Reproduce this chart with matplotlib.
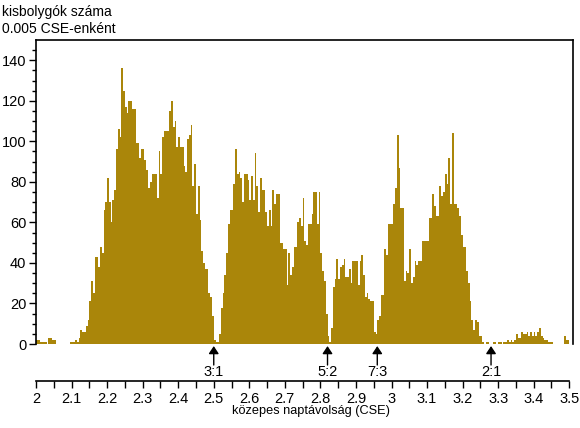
import numpy as np
import matplotlib
matplotlib.use('Agg')
import matplotlib.pyplot as plt

plt.rcParams['font.family'] = ['Liberation Sans', 'DejaVu Sans']

# kisbolygók száma 0.005 CSE-s rekeszekben, 2.0 - 3.5 CSE
bin_start = 2.0
bin_width = 0.005
counts = [
    2, 2, 1, 1, 1, 1, 0, 3, 3, 2,            # 2.000
    2, 0, 0, 0, 0, 0, 0, 0, 0, 1,            # 2.050
    1, 1, 2, 1, 3, 7, 6, 6, 9, 12,           # 2.100
    21, 31, 25, 43, 43, 38, 48, 45, 66, 70,  # 2.150
    82, 70, 60, 71, 76, 96, 106, 102, 136, 125,  # 2.200
    117, 114, 120, 120, 116, 116, 99, 99, 92, 96,  # 2.250
    96, 91, 86, 77, 80, 84, 84, 84, 72, 95,  # 2.300
    84, 102, 105, 105, 105, 115, 120, 107, 110, 97,  # 2.350
    102, 97, 97, 88, 85, 101, 103, 108, 78, 89,  # 2.400
    64, 78, 61, 46, 40, 37, 37, 25, 23, 14,  # 2.450
    2, 1, 1, 5, 18, 25, 34, 45, 59, 66,      # 2.500
    66, 79, 96, 84, 85, 82, 70, 84, 84, 81,  # 2.550
    71, 83, 71, 94, 78, 65, 82, 76, 76, 65,  # 2.600
    58, 66, 58, 76, 69, 74, 74, 50, 50, 47,  # 2.650
    47, 29, 45, 34, 38, 48, 48, 60, 62, 58,  # 2.700
    72, 51, 49, 59, 59, 64, 75, 75, 59, 75,  # 2.750
    45, 36, 31, 15, 4, 1, 8, 28, 32, 42,     # 2.800
    32, 38, 39, 42, 33, 33, 37, 30, 41, 41,  # 2.850
    41, 29, 41, 44, 34, 23, 25, 22, 21, 21,  # 2.900
    6, 5, 12, 14, 24, 24, 47, 44, 59, 59,    # 2.950
    59, 69, 77, 103, 87, 67, 67, 31, 36, 35, # 3.000
    47, 30, 33, 41, 39, 41, 41, 51, 51, 51,  # 3.050
    51, 62, 62, 74, 68, 63, 63, 78, 73, 75,  # 3.100
    84, 79, 92, 69, 104, 69, 69, 67, 63, 54, # 3.150
    48, 48, 36, 30, 21, 12, 7, 12, 11, 4,    # 3.200
    4, 1, 0, 1, 1, 0, 0, 1, 1, 0,            # 3.250
    1, 1, 0, 1, 1, 2, 1, 2, 1, 2,            # 3.300
    5, 3, 3, 6, 5, 5, 6, 4, 6, 4,            # 3.350
    6, 4, 6, 8, 4, 3, 2, 2, 1, 1,            # 3.400
    1, 0, 0, 0, 0, 0, 0, 4, 2, 2,            # 3.450
]

# rezonanciák (Kirkwood-rések)
gap_pos = [2.50, 2.82, 2.96, 3.28]
gap_labels = ['3:1', '5:2', '7:3', '2:1']

x_ticks = [2.0, 2.1, 2.2, 2.3, 2.4, 2.5, 2.6, 2.7, 2.8, 2.9, 3.0, 3.1, 3.2, 3.3, 3.4, 3.5]
x_ticklabels = ['2', '2.1', '2.2', '2.3', '2.4', '2.5', '2.6', '2.7', '2.8', '2.9',
                '3', '3.1', '3.2', '3.3', '3.4', '3.5']

bar_color = '#aa860a'
num_size = 10.5   # számok
txt_size = 9.2    # feliratok

W, H = 580, 428
fig = plt.figure(figsize=(W / 100, H / 100), dpi=100)

def px_axes(left, top, right, bottom):
    return fig.add_axes([left / W, 1 - bottom / H, (right - left) / W, (bottom - top) / H])

edges = bin_start + bin_width * np.arange(len(counts) + 1)
x_right = 2.0 + (573 - 36) / 355.5

# hisztogram
ax = px_axes(36, 40, 573, 344)
ax.stairs(counts, edges, fill=True, color=bar_color, linewidth=0)
ax.set_xlim(2.0, x_right)
ax.set_ylim(0, 150)
ax.spines['bottom'].set_visible(False)
for s in ['left', 'top', 'right']:
    ax.spines[s].set_linewidth(1.2)
ax.set_xticks([])
ax.set_yticks(np.arange(0, 141, 20))
ax.set_yticks(np.arange(0, 150, 5), minor=True)
ax.tick_params(axis='y', which='major', length=5, width=1, labelsize=num_size, pad=2)
ax.tick_params(axis='y', which='minor', length=3, width=1)

for gx, gl in zip(gap_pos, gap_labels):
    ax.annotate('', xy=(gx, 0), xytext=(0, -21), textcoords='offset pixels',
                annotation_clip=False,
                arrowprops=dict(arrowstyle='-|>,head_length=0.45,head_width=0.3',
                                color='black', lw=1, shrinkA=0, shrinkB=1.5))
    ax.annotate(gl, xy=(gx, 0), xytext=(0, -28), textcoords='offset pixels',
                ha='center', va='center', fontsize=num_size, annotation_clip=False)

# külön x tengely
ax2 = px_axes(36, 370, 573, 381)
ax2.set_xlim(2.0, x_right)
ax2.patch.set_visible(False)
for s in ['left', 'top', 'right']:
    ax2.spines[s].set_visible(False)
ax2.spines['bottom'].set_bounds(2.0, 3.5)
ax2.spines['bottom'].set_linewidth(1.2)
ax2.set_yticks([])
ax2.set_xticks(np.arange(2.0, 3.5001, 0.05), minor=True)
ax2.set_xticks(x_ticks)
ax2.set_xticklabels(x_ticklabels)
ax2.tick_params(axis='x', which='both', direction='out', length=5, width=1,
                labelsize=num_size, pad=3)
ax2.set_xlabel('közepes naptávolság (CSE)', fontsize=txt_size)
ax2.xaxis.set_label_coords(0.512, -2.2)

fig.text(2 / W, 1 - 12 / H, 'kisbolygók száma', fontsize=10, ha='left', va='center')
fig.text(2 / W, 1 - 29 / H, '0.005 CSE-enként', fontsize=10, ha='left', va='center')

fig.savefig('out.png', dpi=100)
